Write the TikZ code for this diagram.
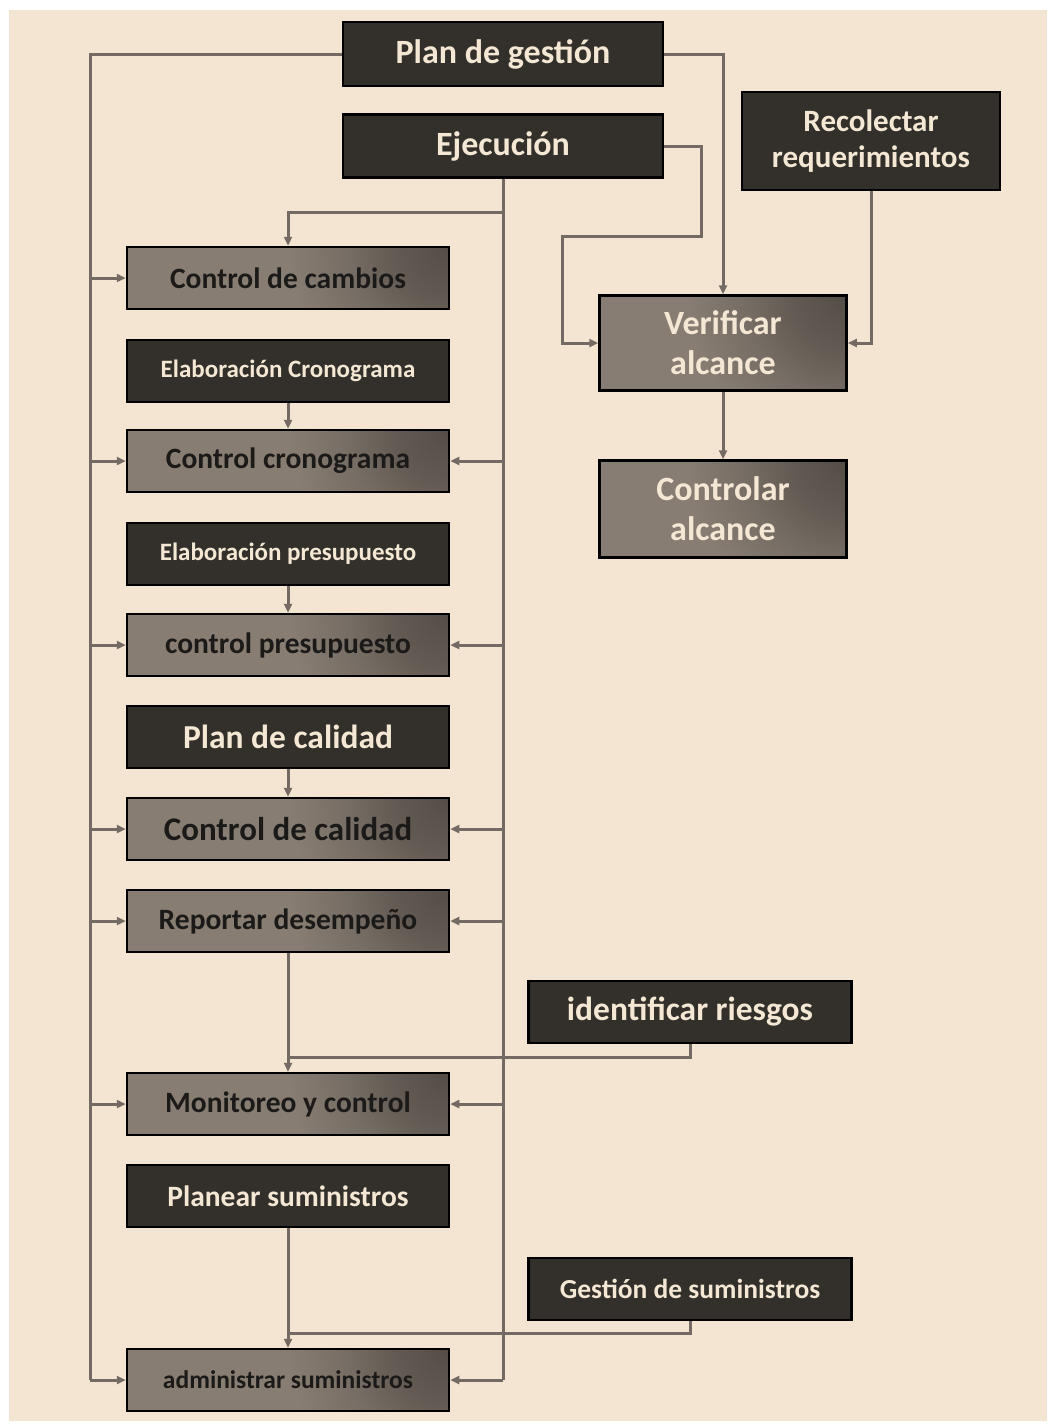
\documentclass[tikz,border=0pt]{standalone}
\usepackage{fontspec}
\setmainfont{Carlito}
\usetikzlibrary{arrows.meta}

\definecolor{bg}{HTML}{F4E4D2}
\definecolor{darkbox}{HTML}{33302C}
\definecolor{graybox}{HTML}{877D73}
\definecolor{grayshade}{HTML}{544D46}
\definecolor{cream}{HTML}{F4E7D4}
\definecolor{ink}{HTML}{1C1A18}
\definecolor{wirecol}{HTML}{736B63}

% soft darkening around the centre, flat grey everywhere else
\pgfdeclareradialshading{cornershade}{\pgfpoint{0bp}{0bp}}{%
  color(0bp)=(grayshade); color(2.5bp)=(grayshade!75!graybox);
  color(5bp)=(grayshade!35!graybox); color(8bp)=(graybox);
  color(50bp)=(graybox)}

\newcommand{\fs}[2]{\bfseries\fontsize{#1}{#2}\selectfont}

\tikzset{
  x=1pt, y=-1pt,
  basebox/.style={draw=black, line width=2.5pt, align=center, inner sep=0pt},
  darkbox/.style={basebox, fill=darkbox, text=cream},
  ctrlbox/.style={basebox, fill=graybox, text=ink,
    path picture={\shade[shading=cornershade]
      (path picture bounding box.north east) circle (500pt);}},
  leftbox/.style={minimum width=322pt, minimum height=62pt},
  wire/.style={draw=wirecol, line width=3pt},
  arr/.style={wire, -{Triangle[length=9pt,width=8pt]}}
}

\begin{document}
\begin{tikzpicture}
  % page and background
  \useasboundingbox (0,0) rectangle (1047,1424);
  \fill[white] (0,0) rectangle (1047,1424);
  \fill[bg] (9,10) rectangle (1047,1421);

  % top nodes
  \node[darkbox, minimum width=320pt, minimum height=64pt, font=\fs{34}{40}] (plan) at (503,54) {Plan de gestión};
  \node[darkbox, minimum width=320pt, minimum height=63pt, font=\fs{34}{40}] (ejec) at (503,146) {Ejecución};
  \node[darkbox, minimum width=258pt, minimum height=98pt, font=\fs{31}{36}] (recol) at (871,141) {Recolectar\\requerimientos};

  % scope column
  \node[ctrlbox, text=cream, minimum width=247pt, minimum height=95pt, font=\fs{34}{40}] (verif) at (723,343) {Verificar\\alcance};
  \node[ctrlbox, text=cream, minimum width=247pt, minimum height=97pt, font=\fs{34}{40}] (ctrlalc) at (723,509) {Controlar\\alcance};

  % left column
  \node[ctrlbox, leftbox, font=\fs{29.5}{34}] (cambios) at (288,278) {Control de cambios};
  \node[darkbox, leftbox, font=\fs{25}{30}] (elabcron) at (288,371) {Elaboración Cronograma};
  \node[ctrlbox, leftbox, font=\fs{29.5}{34}] (ctrlcron) at (288,461) {Control cronograma};
  \node[darkbox, leftbox, font=\fs{25}{30}] (elabpres) at (288,554) {Elaboración presupuesto};
  \node[ctrlbox, leftbox, font=\fs{29.5}{34}] (ctrlpres) at (288,645) {control presupuesto};
  \node[darkbox, leftbox, font=\fs{33.5}{38}] (plancal) at (288,737) {Plan de calidad};
  \node[ctrlbox, leftbox, font=\fs{33}{38}] (ctrlcal) at (288,829) {Control de calidad};
  \node[ctrlbox, leftbox, font=\fs{29.5}{34}] (report) at (288,921) {Reportar desempeño};
  \node[ctrlbox, leftbox, font=\fs{29.5}{34}] (monit) at (288,1104) {Monitoreo y control};
  \node[darkbox, leftbox, font=\fs{29.5}{34}] (planesum) at (288,1196) {Planear suministros};
  \node[ctrlbox, leftbox, font=\fs{25.5}{30}] (admin) at (288,1380) {administrar suministros};

  % side inputs
  \node[darkbox, leftbox, minimum width=323pt, font=\fs{33.5}{38}] (riesgos) at (690,1012) {identificar riesgos};
  \node[darkbox, leftbox, minimum width=323pt, font=\fs{27.5}{32}] (gestsum) at (690,1289) {Gestión de suministros};

  % bus lines
  \coordinate (busL) at (90,0);
  \coordinate (busR) at (503,0);
  \coordinate (tapC) at (503,212);

  \draw[wire] (plan.west) -| (admin.west -| busL);
  \draw[wire] (ejec.south) -- (admin.east -| busR);

  \foreach \n in {cambios,ctrlcron,ctrlpres,ctrlcal,report,monit,admin}
    \draw[arr] (\n.west -| busL) -- (\n.west);
  \foreach \n in {ctrlcron,ctrlpres,ctrlcal,report,monit,admin}
    \draw[arr] (\n.east -| busR) -- (\n.east);

  \draw[arr] (tapC) -| (cambios.north);

  % planning to control pairs
  \draw[arr] (elabcron) -- (ctrlcron);
  \draw[arr] (elabpres) -- (ctrlpres);
  \draw[arr] (plancal) -- (ctrlcal);
  \draw[arr] (report) -- (monit);
  \draw[arr] (planesum) -- (admin);

  % risk and supply inputs
  \coordinate (jr) at (288,1057);
  \coordinate (js) at (288,1333);
  \draw[wire] (riesgos.south) |- (jr);
  \draw[wire] (gestsum.south) |- (js);

  % scope connections
  \coordinate (e1) at (701,236);
  \coordinate (e2) at (562,236);
  \draw[arr] (plan.east) -| (verif.north);
  \draw[arr] (ejec.east) -| (e1) -- (e2) |- (verif.west);
  \draw[arr] (recol.south) |- (verif.east);
  \draw[arr] (verif) -- (ctrlalc);
\end{tikzpicture}
\end{document}
